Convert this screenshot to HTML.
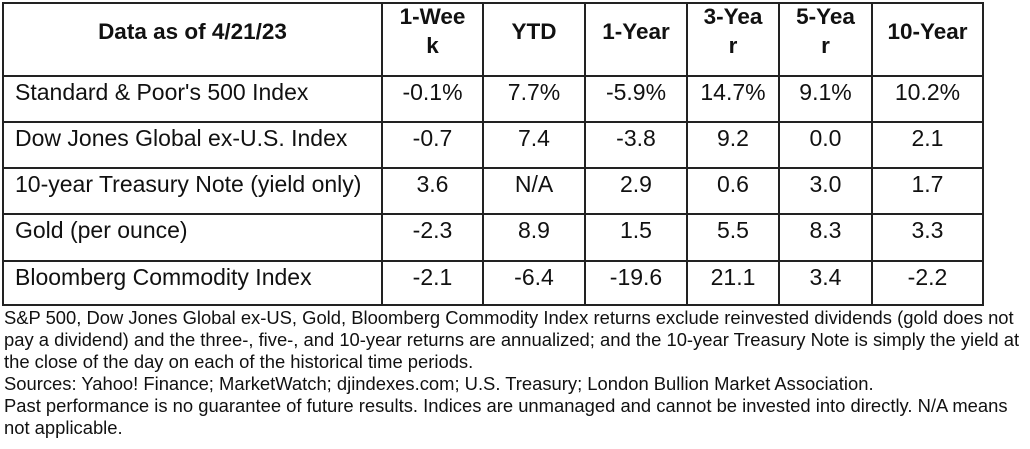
<!DOCTYPE html>
<html><head><meta charset="utf-8"><style>
html,body{margin:0;padding:0;background:#fff;width:1030px;height:449px;overflow:hidden}
body{font-family:"Liberation Sans",Arial,sans-serif;color:#111;position:relative}
.h{position:absolute;background:#222;height:2px}
.v{position:absolute;background:#222;width:2px;top:2px;height:304px}
.t{position:absolute;white-space:nowrap;text-align:center}
.hd{font-weight:bold;font-size:22.5px;line-height:29px}
.c{font-size:23px;line-height:26px}
.f{position:absolute;left:4px;font-size:18.4px;line-height:22px;white-space:nowrap;top:307px}
</style></head><body>
<div class="h" style="left:2px;width:982px;top:2px"></div>
<div class="h" style="left:2px;width:982px;top:75px"></div>
<div class="h" style="left:2px;width:982px;top:121px"></div>
<div class="h" style="left:2px;width:982px;top:167px"></div>
<div class="h" style="left:2px;width:982px;top:213px"></div>
<div class="h" style="left:2px;width:982px;top:260px"></div>
<div class="h" style="left:2px;width:982px;top:304px"></div>
<div class="v" style="left:2px"></div>
<div class="v" style="left:381px"></div>
<div class="v" style="left:482px"></div>
<div class="v" style="left:584px"></div>
<div class="v" style="left:686px"></div>
<div class="v" style="left:778px"></div>
<div class="v" style="left:871px"></div>
<div class="v" style="left:982px"></div>

<div class="t hd" style="left:4px;width:377px;top:17px">Data as of 4/21/23</div>
<div class="t hd" style="left:383px;width:99px;top:2px">1-Wee<br>k</div>
<div class="t hd" style="left:484px;width:100px;top:17px">YTD</div>
<div class="t hd" style="left:586px;width:100px;top:17px">1-Year</div>
<div class="t hd" style="left:688px;width:90px;top:2px">3-Yea<br>r</div>
<div class="t hd" style="left:780px;width:91px;top:2px">5-Yea<br>r</div>
<div class="t hd" style="left:873px;width:109px;top:17px">10-Year</div>

<div class="t c" style="left:15px;top:79px;text-align:left">Standard &amp; Poor's 500 Index</div>
<div class="t c" style="left:15px;top:125px;text-align:left">Dow Jones Global ex-U.S. Index</div>
<div class="t c" style="left:15px;top:171px;text-align:left">10-year Treasury Note (yield only)</div>
<div class="t c" style="left:15px;top:217px;text-align:left">Gold (per ounce)</div>
<div class="t c" style="left:15px;top:264px;text-align:left">Bloomberg Commodity Index</div>

<div class="t c" style="left:383px;width:99px;top:79px">-0.1%</div>
<div class="t c" style="left:484px;width:100px;top:79px">7.7%</div>
<div class="t c" style="left:586px;width:100px;top:79px">-5.9%</div>
<div class="t c" style="left:688px;width:90px;top:79px">14.7%</div>
<div class="t c" style="left:780px;width:91px;top:79px">9.1%</div>
<div class="t c" style="left:873px;width:109px;top:79px">10.2%</div>

<div class="t c" style="left:383px;width:99px;top:125px">-0.7</div>
<div class="t c" style="left:484px;width:100px;top:125px">7.4</div>
<div class="t c" style="left:586px;width:100px;top:125px">-3.8</div>
<div class="t c" style="left:688px;width:90px;top:125px">9.2</div>
<div class="t c" style="left:780px;width:91px;top:125px">0.0</div>
<div class="t c" style="left:873px;width:109px;top:125px">2.1</div>

<div class="t c" style="left:383px;width:99px;top:171px">3.6</div>
<div class="t c" style="left:484px;width:100px;top:171px">N/A</div>
<div class="t c" style="left:586px;width:100px;top:171px">2.9</div>
<div class="t c" style="left:688px;width:90px;top:171px">0.6</div>
<div class="t c" style="left:780px;width:91px;top:171px">3.0</div>
<div class="t c" style="left:873px;width:109px;top:171px">1.7</div>

<div class="t c" style="left:383px;width:99px;top:217px">-2.3</div>
<div class="t c" style="left:484px;width:100px;top:217px">8.9</div>
<div class="t c" style="left:586px;width:100px;top:217px">1.5</div>
<div class="t c" style="left:688px;width:90px;top:217px">5.5</div>
<div class="t c" style="left:780px;width:91px;top:217px">8.3</div>
<div class="t c" style="left:873px;width:109px;top:217px">3.3</div>

<div class="t c" style="left:383px;width:99px;top:264px">-2.1</div>
<div class="t c" style="left:484px;width:100px;top:264px">-6.4</div>
<div class="t c" style="left:586px;width:100px;top:264px">-19.6</div>
<div class="t c" style="left:688px;width:90px;top:264px">21.1</div>
<div class="t c" style="left:780px;width:91px;top:264px">3.4</div>
<div class="t c" style="left:873px;width:109px;top:264px">-2.2</div>

<div class="f">S&amp;P 500, Dow Jones Global ex-US, Gold, Bloomberg Commodity Index returns exclude reinvested dividends (gold does not<br>pay a dividend) and the three-, five-, and 10-year returns are annualized; and the 10-year Treasury Note is simply the yield at<br>the close of the day on each of the historical time periods.<br>Sources: Yahoo! Finance; MarketWatch; djindexes.com; U.S. Treasury; London Bullion Market Association.<br>Past performance is no guarantee of future results. Indices are unmanaged and cannot be invested into directly. N/A means<br>not applicable.</div>
</body></html>
